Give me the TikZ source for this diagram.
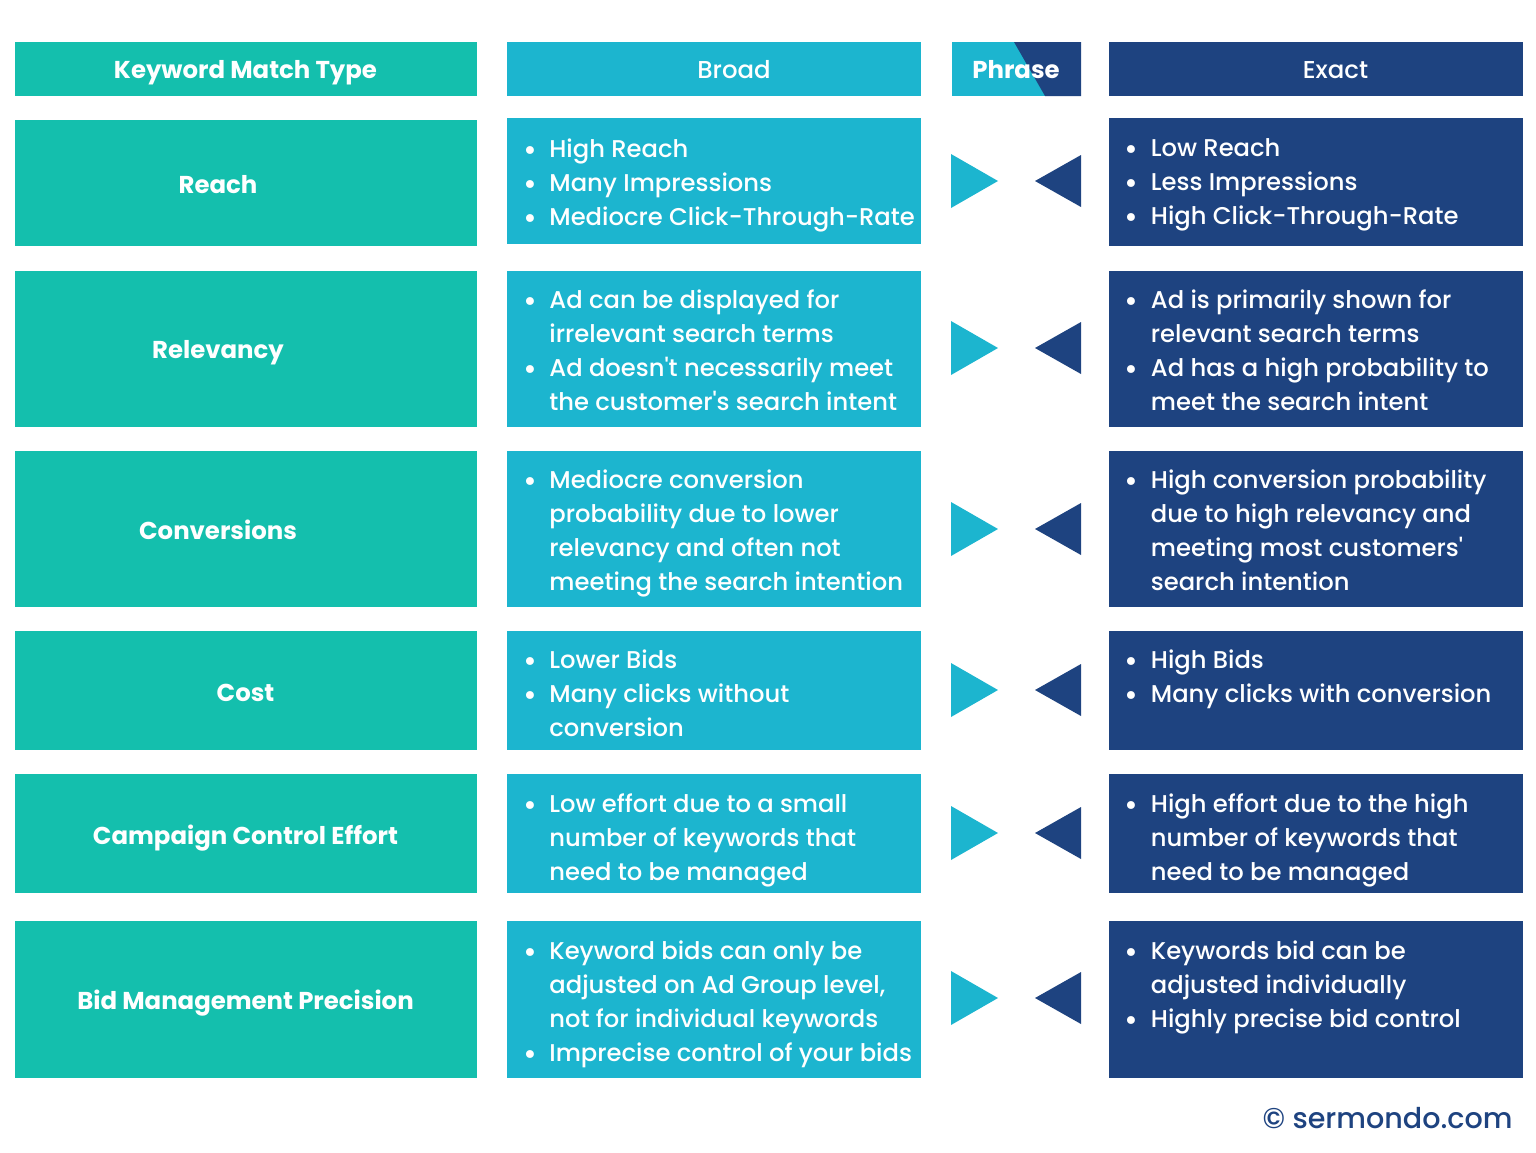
\documentclass[tikz,border=0pt]{standalone}
\usepackage{fontspec}
\setmainfont{Poppins Medium}[BoldFont={Poppins Bold}]
\usepackage{xcolor}
\usetikzlibrary{positioning}
\definecolor{tealc}{HTML}{14BFAD}
\definecolor{broadc}{HTML}{1CB5CF}
\definecolor{exactc}{HTML}{1E4380}
\newcommand{\itm}{\rule{0pt}{9pt}\makebox[12pt][l]{\hspace*{-1.2pt}\raisebox{-1.6pt}{\fontsize{15}{17}\selectfont\textbullet}}}
\newcommand{\cnt}{\hspace*{12pt}}
\tikzset{
  cell/.style={anchor=north west,inner sep=0pt,outer sep=0pt,minimum width=#1},
  rowbox/.style={cell=231pt,fill=tealc},
  broadbox/.style={cell=207pt,fill=broadc},
  exactbox/.style={cell=207pt,fill=exactc},
  rowlabel/.style={text=white,text height=9pt,text depth=3pt,inner sep=0pt,font=\fontsize{12.2}{15}\selectfont\bfseries},
  headlabel/.style={text=white,text height=9pt,text depth=3pt,inner sep=0pt,font=\fontsize{12.2}{15}\selectfont},
  listtext/.style={anchor=north west,inner sep=0pt,text=white,align=left,
    font=\fontsize{12.12}{17}\selectfont},
}
\begin{document}
\begin{tikzpicture}[x=0.5pt,y=-0.5pt]
  \useasboundingbox (0,0) rectangle (1536,1152);
  % Header row
  \node[rowbox,minimum height=27pt] (headT) at (15,42) {};
  \node[broadbox,minimum height=27pt] (headB) at (507,42) {};
  \node[exactbox,minimum height=27pt] (headE) at (1109,42) {};
  \fill[broadc] (952,42) rectangle (1081,96);
  \fill[exactc] (1014,42) -- (1081,42) -- (1081,96) -- (1045,96) -- cycle;
  \node[rowlabel] (headTl) at (245.5,72.5) {Keyword Match Type};
  \node[headlabel] (headBl) at (734,72.5) {Broad};
  \node[rowlabel] (headPl) at (1016,72.5) {Phrase};
  \node[headlabel] (headEl) at (1335.5,72.5) {Exact};
  % Row boxes: name/top/height
  \foreach \name/\top/\high in {reach/120/63,relev/271/78,conv/451/78,cost/631/59.5,camp/774/59.5,bid/921/78.5}
    \node[rowbox,minimum height=\high pt] (\name T) at (15,\top) {};
  \foreach \name/\top/\high/\ehigh in {reach/118/63/64,relev/271/78/78,conv/451/78/78,cost/631/59.5/59.5,camp/774/59.5/59.5,bid/921/78.5/78.5}{
    \node[broadbox,minimum height=\high pt] (\name B) at (507,\top) {};
    \node[exactbox,minimum height=\ehigh pt] (\name E) at (1109,\top) {};
  }
  % Row labels
  \node[rowlabel] (reachl) at (218,187) {Reach};
  \node[rowlabel] (relevl) at (218,352) {Relevancy};
  \node[rowlabel] (convl) at (218,533) {Conversions};
  \node[rowlabel] (costl) at (245.5,695) {Cost};
  \node[rowlabel] (campl) at (245.5,838) {Campaign Control Effort};
  \node[rowlabel] (bidl) at (245.5,1003) {Bid Management Precision};
  % Triangles between the columns
  \foreach \y in {181,348,529,690,833,998}{
    \fill[broadc] (951,\y-27) -- (998,\y) -- (951,\y+27) -- cycle;
    \fill[exactc] (1081,\y-26) -- (1035,\y) -- (1081,\y+26) -- cycle;
  }
  % Broad lists
  \node[listtext] (reachBt) at (525,138) {\itm High Reach\\\itm Many Impressions\\\itm Mediocre Click-Through-Rate};
  \node[listtext] (relevBt) at (525,289) {\itm Ad can be displayed for\\\cnt irrelevant search terms\\\itm Ad doesn\textquotesingle t necessarily meet\\\cnt the customer\textquotesingle s search intent};
  \node[listtext] (convBt) at (525,469) {\itm Mediocre conversion\\\cnt probability due to lower\\\cnt relevancy and often not\\\cnt meeting the search intention};
  \node[listtext] (costBt) at (525,649) {\itm Lower Bids\\\itm Many clicks without\\\cnt conversion};
  \node[listtext] (campBt) at (525,793) {\itm Low effort due to a small\\\cnt number of keywords that\\\cnt need to be managed};
  \node[listtext] (bidBt) at (525,940) {\itm Keyword bids can only be\\\cnt adjusted on Ad Group level,\\\cnt not for individual keywords\\\itm Imprecise control of your bids};
  % Exact lists
  \node[listtext] (reachEt) at (1126.5,138) {\itm Low Reach\\\itm Less Impressions\\\itm High Click-Through-Rate};
  \node[listtext] (relevEt) at (1126.5,289) {\itm Ad is primarily shown for\\\cnt relevant search terms\\\itm Ad has a high probability to\\\cnt meet the search intent};
  \node[listtext] (convEt) at (1126.5,469) {\itm High conversion probability\\\cnt due to high relevancy and\\\cnt meeting most customers\textquotesingle\\\cnt search intention};
  \node[listtext] (costEt) at (1126.5,649) {\itm High Bids\\\itm Many clicks with conversion};
  \node[listtext] (campEt) at (1126.5,793) {\itm High effort due to the high\\\cnt number of keywords that\\\cnt need to be managed};
  \node[listtext] (bidEt) at (1126.5,940) {\itm Keywords bid can be\\\cnt adjusted individually\\\itm Highly precise bid control};
  % Footer
  \node[anchor=east,inner sep=0pt,text=exactc,font=\fontsize{14.3}{17}\selectfont] (credit) at (1513,1118) {© sermondo.com};
\end{tikzpicture}
\end{document}
